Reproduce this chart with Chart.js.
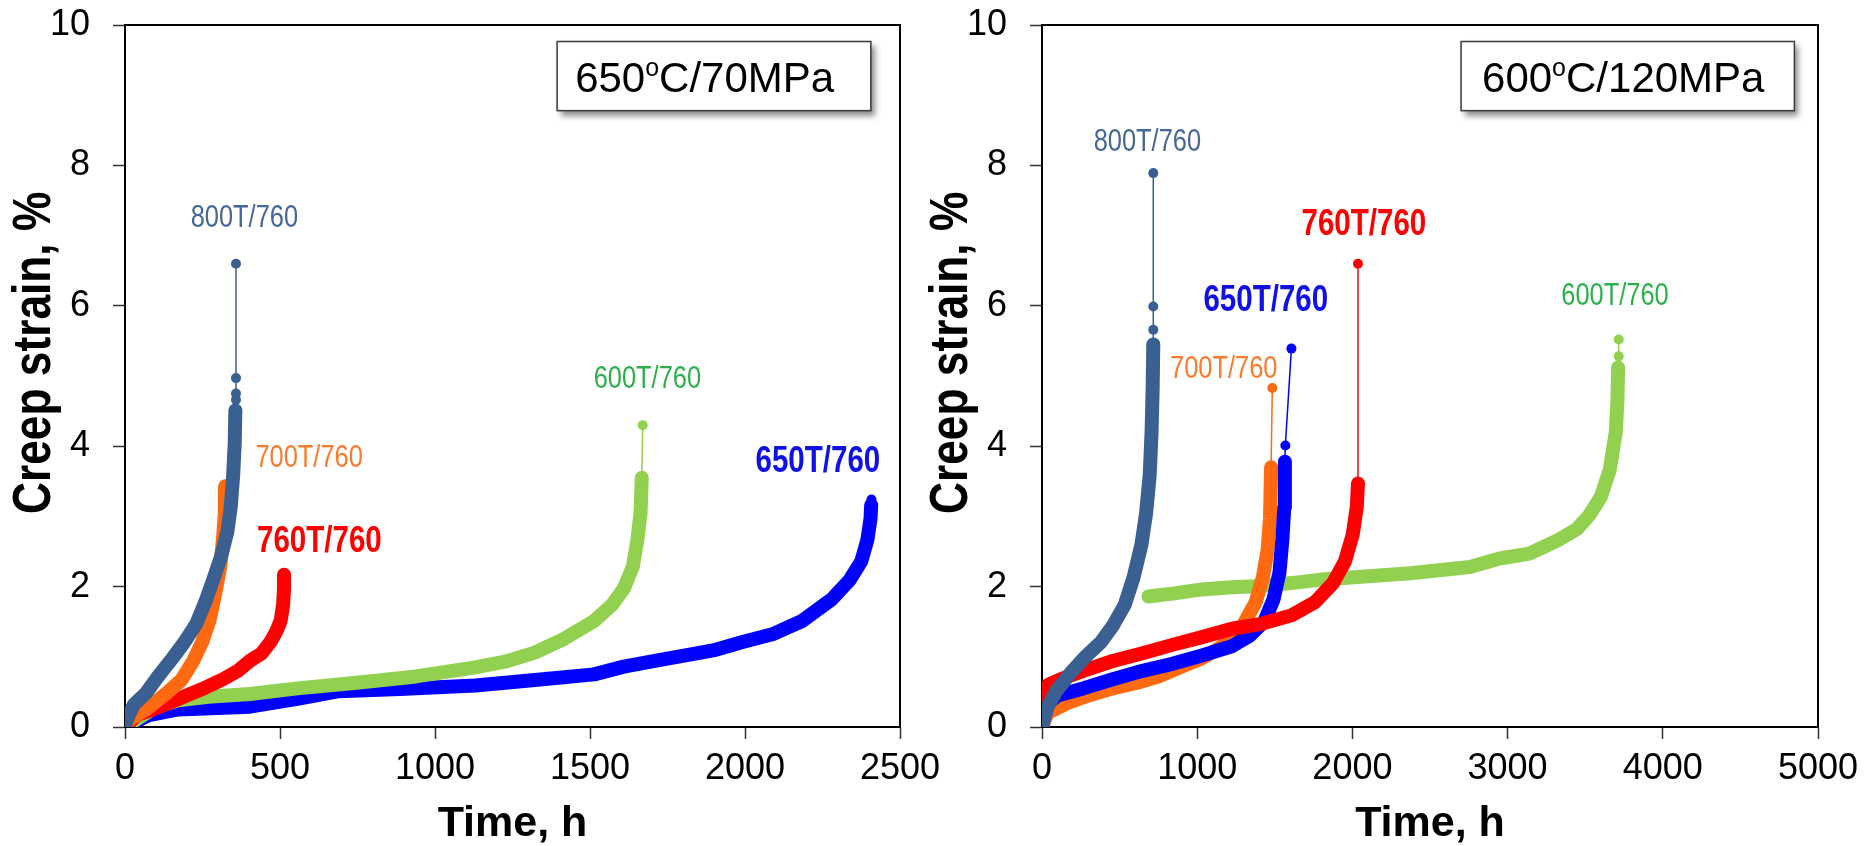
<!DOCTYPE html>
<html>
<head>
<meta charset="utf-8">
<script src="https://cdn.jsdelivr.net/npm/chart.js@4/dist/chart.umd.min.js"></script>
<style>
html,body{margin:0;padding:0;background:#fff;overflow:hidden;width:1868px;height:846px}
canvas{position:absolute;top:0}
#cLeft{left:0;width:1000px;height:850px}
#cRight{left:900px;width:968px;height:850px}
</style>
</head>
<body>
<canvas id="cLeft" width="1000" height="850"></canvas>
<canvas id="cRight" width="968" height="850"></canvas>
<script>
// ---------- tick labels ----------
const yTickValues = [0, 2, 4, 6, 8, 10];
const xTicksLeft = [0, 500, 1000, 1500, 2000, 2500];
const xTicksRight = [0, 1000, 2000, 3000, 4000, 5000];

// ---------- axis titles / series names ----------
const xTitle = 'Time, h';
const yTitle = 'Creep strain, %';
const seriesNames = ['800T/760', '700T/760', '760T/760', '600T/760', '650T/760'];

// ---------- LEFT panel: 650oC/70MPa (time h, creep strain %) ----------
const L800_time   = [0, 4, 29, 67, 105, 153, 192, 230, 259, 287, 310, 330, 341, 349, 354, 356];
const L800_strain = [0, 0.09, 0.32, 0.48, 0.71, 0.98, 1.21, 1.47, 1.78, 2.13, 2.43, 2.78, 3.13, 3.59, 4.05, 4.51];
const L800_tailTime   = [358, 358, 358, 358];
const L800_tailStrain = [4.66, 4.75, 4.97, 6.60];

const L700_time   = [0, 10, 77, 134, 182, 220, 249, 272, 291, 307, 316, 322, 323];
const L700_strain = [0, 0.09, 0.28, 0.48, 0.67, 0.94, 1.21, 1.51, 1.90, 2.28, 2.67, 3.05, 3.43];
const L700_tailTime   = [];
const L700_tailStrain = [];

const L760_time   = [0, 38, 96, 172, 249, 316, 364, 402, 441, 469, 488, 502, 510, 513, 513];
const L760_strain = [0, 0.17, 0.26, 0.40, 0.54, 0.68, 0.80, 0.94, 1.05, 1.21, 1.36, 1.51, 1.74, 1.97, 2.17];
const L760_tailTime   = [];
const L760_tailStrain = [];

const L600_time   = [0, 96, 172, 268, 403, 556, 747, 939, 1130, 1226, 1322, 1418, 1513, 1571, 1609, 1638, 1653, 1663, 1667];
const L600_strain = [0, 0.28, 0.38, 0.43, 0.47, 0.55, 0.63, 0.72, 0.85, 0.93, 1.06, 1.26, 1.51, 1.74, 1.97, 2.28, 2.67, 3.05, 3.55];
const L600_tailTime   = [1670];
const L600_tailStrain = [4.30];

const L650_time   = [0, 77, 172, 403, 556, 690, 887, 1130, 1322, 1513, 1609, 1705, 1897, 1992, 2088, 2184, 2280, 2337, 2375, 2395, 2405, 2407];
const L650_strain = [0, 0.17, 0.25, 0.29, 0.40, 0.51, 0.54, 0.59, 0.67, 0.75, 0.86, 0.94, 1.09, 1.21, 1.32, 1.51, 1.82, 2.09, 2.36, 2.67, 2.97, 3.16];
const L650_tailTime   = [2408];
const L650_tailStrain = [3.24];

// ---------- RIGHT panel: 600oC/120MPa ----------
const R800_time   = [0, 35, 92, 188, 284, 380, 456, 533, 590, 640, 671, 694, 706, 713, 717];
const R800_strain = [0, 0.28, 0.51, 0.78, 1.01, 1.21, 1.44, 1.74, 2.13, 2.59, 3.05, 3.59, 4.20, 4.82, 5.45];
const R800_tailTime   = [717, 717, 717];
const R800_tailStrain = [5.66, 5.99, 7.89];

const R760_time   = [0, 10, 40, 120, 265, 456, 648, 840, 1031, 1223, 1415, 1607, 1760, 1875, 1952, 2002, 2028, 2036];
const R760_strain = [0.20, 0.48, 0.60, 0.68, 0.80, 0.94, 1.05, 1.17, 1.28, 1.40, 1.47, 1.59, 1.78, 2.05, 2.36, 2.74, 3.13, 3.47];
const R760_tailTime   = [2036];
const R760_tailStrain = [6.60];

const R650_time   = [0, 20, 100, 265, 456, 648, 840, 1031, 1223, 1338, 1434, 1492, 1530, 1549, 1561, 1565];
const R650_strain = [0, 0.30, 0.45, 0.55, 0.68, 0.80, 0.90, 1.02, 1.15, 1.30, 1.51, 1.82, 2.20, 2.67, 3.13, 3.78];
const R650_tailTime   = [1568, 1607];
const R650_tailStrain = [4.01, 5.39];

const R700_time   = [0, 35, 161, 300, 456, 613, 750, 900, 1031, 1146, 1223, 1300, 1377, 1423, 1453, 1469, 1476];
const R700_strain = [0, 0.20, 0.34, 0.45, 0.55, 0.63, 0.72, 0.86, 0.98, 1.13, 1.28, 1.47, 1.78, 2.13, 2.51, 2.97, 3.70];
const R700_tailTime   = [1484];
const R700_tailStrain = [4.83];

const R600_time   = [686, 840, 1031, 1223, 1415, 1607, 1798, 1990, 2373, 2757, 2949, 3140, 3332, 3447, 3524, 3601, 3658, 3697, 3708, 3712];
const R600_strain = [1.86, 1.90, 1.96, 1.99, 2.01, 2.05, 2.10, 2.13, 2.19, 2.28, 2.40, 2.47, 2.67, 2.82, 3.01, 3.28, 3.66, 4.20, 4.66, 5.12];
const R600_tailTime   = [3716, 3716];
const R600_tailStrain = [5.28, 5.52];

// ---------- styles ----------
const colors = {
  '800T/760': '#3A6092', '700T/760': '#FF6A10', '760T/760': '#FF0000',
  '600T/760': '#92D050', '650T/760': '#0000FF'
};
const noteColors = {
  '800T/760': '#46679A', '700T/760': '#FA7B2E', '760T/760': '#FF0000',
  '600T/760': '#2DB04B', '650T/760': '#1010E8'
};
const SANS = '"Liberation Sans", Arial, sans-serif';
const NARROW_SCALE = 0.82;   // emulate Arial Narrow
const BAND = 14;

function series(name, time, strain, tailTime, tailStrain) {
  const n = time.length;
  const band = time.map((t, i) => ({x: t, y: strain[i]}));
  const tail = tailTime.map((t, i) => ({x: t, y: tailStrain[i]}));
  const c = colors[name];
  return {
    label: name,
    data: band.concat(tail),
    showLine: true,
    borderColor: c,
    backgroundColor: c,
    pointBackgroundColor: c,
    pointBorderWidth: 0,
    pointRadius: ctx => (ctx.dataIndex >= n - 1 ? 5 : 0),
    pointHoverRadius: 0,
    borderWidth: BAND,
    borderCapStyle: 'round',
    borderJoinStyle: 'round',
    tension: 0,
    segment: { borderWidth: ctx => (ctx.p1DataIndex >= n ? 1.5 : BAND) }
  };
}

// annotation texts (placed in data coordinates)
const leftNotes = [
  {text: '800T/760', t: 385,  s: 7.24, bold: false},
  {text: '700T/760', t: 594,  s: 3.82, bold: false},
  {text: '760T/760', t: 627,  s: 2.64, bold: true},
  {text: '600T/760', t: 1685, s: 4.95, bold: false},
  {text: '650T/760', t: 2235, s: 3.77, bold: true}
];
const rightNotes = [
  {text: '800T/760', t: 679,  s: 8.32, bold: false},
  {text: '760T/760', t: 2074, s: 7.15, bold: true},
  {text: '650T/760', t: 1442, s: 6.07, bold: true},
  {text: '700T/760', t: 1171, s: 5.09, bold: false},
  {text: '600T/760', t: 3692, s: 6.14, bold: false}
];
const leftBox  = {pre: '650', post: 'C/70MPa',  t0: 1394, t1: 2406, s0: 9.765, s1: 8.78, padL: 18};
const rightBox = {pre: '600', post: 'C/120MPa', t0: 2700, t1: 4848, s0: 9.765, s1: 8.78, padL: 21};

const notesPlugin = {
  id: 'notes',
  beforeDatasetsDraw(chart, args, opts) {
    const {ctx, chartArea: a} = chart;
    ctx.save();
    ctx.strokeStyle = '#000';
    ctx.lineWidth = 2;
    ctx.strokeRect(a.left, a.top, a.right - a.left, a.bottom - a.top);
    ctx.restore();
    // y-axis title (bold, narrow), rotated
    const ys = chart.scales.y;
    ctx.save();
    ctx.translate(a.left - 89.5, ys.getPixelForValue(opts.yTitleAt));
    ctx.rotate(-Math.PI / 2);
    ctx.scale(NARROW_SCALE, 1);
    ctx.font = 'bold 54px ' + SANS;
    ctx.fillStyle = '#000';
    ctx.textAlign = 'center';
    ctx.textBaseline = 'middle';
    ctx.fillText(yTitle, 0, 0);
    ctx.restore();
  },
  afterDatasetsDraw(chart, args, opts) {
    const {ctx} = chart;
    const xs = chart.scales.x, ys = chart.scales.y;
    const b = opts.box;
    const x0 = xs.getPixelForValue(b.t0), x1 = xs.getPixelForValue(b.t1);
    const y0 = ys.getPixelForValue(b.s0), y1 = ys.getPixelForValue(b.s1);
    ctx.save();
    ctx.shadowColor = 'rgba(0,0,0,0.45)';
    ctx.shadowBlur = 6;
    ctx.shadowOffsetX = 4;
    ctx.shadowOffsetY = 5;
    ctx.fillStyle = '#fff';
    ctx.fillRect(x0, y0, x1 - x0, y1 - y0);
    ctx.restore();
    ctx.save();
    ctx.strokeStyle = '#3a3a3a';
    ctx.lineWidth = 1.5;
    ctx.strokeRect(x0, y0, x1 - x0, y1 - y0);
    ctx.fillStyle = '#000';
    ctx.textAlign = 'left';
    ctx.textBaseline = 'alphabetic';
    const base = y0 + 50.5;
    let tx = x0 + b.padL;
    ctx.font = '42px ' + SANS;
    ctx.fillText(b.pre, tx, base);
    tx += ctx.measureText(b.pre).width;
    ctx.font = '25px ' + SANS;
    ctx.fillText('o', tx, base - 16);
    tx += ctx.measureText('o').width;
    ctx.font = '42px ' + SANS;
    ctx.fillText(b.post, tx, base);
    ctx.restore();
    // series labels (narrow)
    ctx.save();
    ctx.textAlign = 'center';
    ctx.textBaseline = 'middle';
    for (const n of opts.notes) {
      ctx.font = (n.bold ? 'bold 36px ' : '31px ') + SANS;
      ctx.fillStyle = noteColors[n.text];
      const px = xs.getPixelForValue(n.t), py = ys.getPixelForValue(n.s);
      ctx.save();
      ctx.translate(px, py);
      ctx.scale(NARROW_SCALE, 1);
      ctx.fillText(n.text, 0, 0);
      ctx.restore();
    }
    ctx.restore();
  }
};

function makeOptions(xMax, xTickVals, yWidth, padRight, box, notes) {
  return {
    responsive: false,
    animation: false,
    devicePixelRatio: 1,
    events: [],
    layout: { padding: { top: 25, bottom: 0, left: 0, right: padRight } },
    plugins: {
      legend: { display: false },
      tooltip: { enabled: false },
      notes: { box: box, notes: notes, yTitleAt: 5.33 }
    },
    scales: {
      x: {
        type: 'linear', min: 0, max: xMax,
        afterBuildTicks: s => { s.ticks = xTickVals.map(v => ({value: v})); },
        afterFit: s => { s.height = 123; s.paddingLeft = 0; s.paddingRight = 0; },
        grid: { display: true, drawOnChartArea: false, drawTicks: true, tickLength: 12, tickColor: '#333', tickWidth: 1.5 },
        border: { display: true, color: '#000', width: 2 },
        ticks: { color: '#000', font: { family: SANS, size: 36 }, padding: 8, maxRotation: 0, autoSkip: false,
                 callback: v => String(v) },
        title: { display: true, text: xTitle, color: '#000', font: { family: SANS, size: 43, weight: 'bold' }, padding: { top: 0, bottom: 0 } }
      },
      y: {
        type: 'linear', min: 0, max: 10,
        afterBuildTicks: s => { s.ticks = yTickValues.map(v => ({value: v})); },
        afterFit: s => { s.width = yWidth; s.paddingTop = 0; s.paddingBottom = 0; },
        grid: { display: true, drawOnChartArea: false, drawTicks: true, tickLength: 12, tickColor: '#333', tickWidth: 1.5 },
        border: { display: true, color: '#000', width: 2 },
        ticks: { color: '#000', font: { family: SANS, size: 36 }, padding: 23, callback: v => String(v) },
        title: { display: false, text: yTitle }
      }
    }
  };
}

new Chart(document.getElementById('cLeft'), {
  type: 'scatter',
  data: { datasets: [
    series('800T/760', L800_time, L800_strain, L800_tailTime, L800_tailStrain),
    series('700T/760', L700_time, L700_strain, L700_tailTime, L700_tailStrain),
    series('760T/760', L760_time, L760_strain, L760_tailTime, L760_tailStrain),
    series('600T/760', L600_time, L600_strain, L600_tailTime, L600_tailStrain),
    series('650T/760', L650_time, L650_strain, L650_tailTime, L650_tailStrain)
  ]},
  options: makeOptions(2500, xTicksLeft, 125, 100, leftBox, leftNotes),
  plugins: [notesPlugin]
});

new Chart(document.getElementById('cRight'), {
  type: 'scatter',
  data: { datasets: [
    series('800T/760', R800_time, R800_strain, R800_tailTime, R800_tailStrain),
    series('760T/760', R760_time, R760_strain, R760_tailTime, R760_tailStrain),
    series('650T/760', R650_time, R650_strain, R650_tailTime, R650_tailStrain),
    series('700T/760', R700_time, R700_strain, R700_tailTime, R700_tailStrain),
    series('600T/760', R600_time, R600_strain, R600_tailTime, R600_tailStrain)
  ]},
  options: makeOptions(5000, xTicksRight, 142, 50, rightBox, rightNotes),
  plugins: [notesPlugin]
});
</script>
</body>
</html>
